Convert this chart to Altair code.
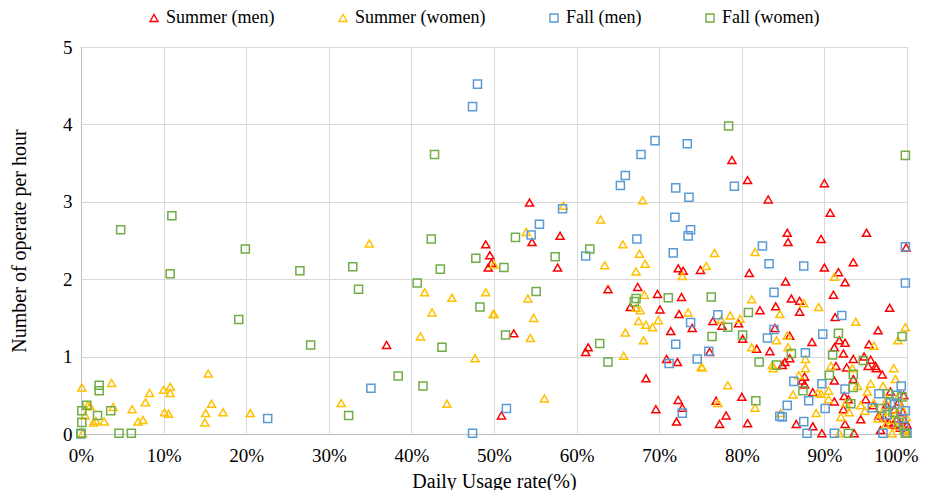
import altair as alt
import pandas as pd

series_names = ["Summer (men)", "Summer (women)", "Fall (men)", "Fall (women)"]
series_colors = ["#FF0000", "#FFC000", "#5B9BD5", "#70AD47"]
series_shapes = ["triangle-up", "triangle-up", "square", "square"]
series_sizes = [65, 65, 90, 70]

x_ticks = list(range(0, 101, 10))
y_ticks = [0, 1, 2, 3, 4, 5]

summer_men = [
    (54.3, 2.99), (58.0, 2.56), (54.6, 2.48), (78.8, 3.54), (80.7, 3.28), (90.0, 3.24),
    (83.2, 3.03), (90.7, 2.86), (85.5, 2.60), (89.6, 2.52), (95.1, 2.60), (85.6, 2.48),
    (49.0, 2.45), (49.5, 2.31), (49.7, 2.21), (49.3, 2.15), (37.0, 1.15), (57.7, 2.15),
    (72.3, 2.14), (72.9, 2.11), (75.0, 2.12), (63.8, 1.87), (67.4, 1.90), (69.8, 1.81),
    (72.7, 1.77), (66.5, 1.64), (70.1, 1.61), (72.4, 1.55), (74.0, 1.37), (71.4, 1.33),
    (52.4, 1.30), (61.4, 1.12), (61.1, 1.06), (70.9, 0.97), (72.2, 0.93), (68.4, 0.72),
    (72.3, 0.44), (72.8, 0.34), (69.6, 0.32), (72.1, 0.16), (50.9, 0.24), (99.9, 2.41),
    (90.0, 2.15), (93.5, 2.22), (91.7, 2.09), (80.9, 2.08), (85.3, 1.97), (92.5, 1.96),
    (91.1, 1.80), (86.0, 1.75), (87.0, 1.72), (84.1, 1.65), (82.2, 1.60), (87.0, 1.58),
    (97.9, 1.63), (91.3, 1.51), (76.5, 1.46), (77.6, 1.40), (79.6, 1.43), (84.0, 1.37),
    (85.8, 1.27), (80.1, 1.23), (88.5, 1.19), (91.8, 1.21), (92.5, 1.18), (96.5, 1.34),
    (95.4, 1.16), (91.2, 1.12), (92.3, 1.04), (81.8, 1.10), (83.4, 1.07), (76.1, 1.06),
    (85.8, 0.98), (93.5, 0.97), (85.2, 0.93), (84.9, 0.89), (94.8, 1.00), (95.6, 0.96),
    (96.2, 0.88), (92.7, 0.86), (91.4, 0.88), (87.6, 0.74), (87.3, 0.69), (87.6, 0.64),
    (91.2, 0.69), (93.5, 0.71), (96.3, 0.85), (95.3, 0.88), (97.0, 0.77), (88.6, 0.54),
    (92.4, 0.49), (92.9, 0.45), (91.2, 0.42), (92.3, 0.32), (94.4, 0.19), (95.9, 0.37),
    (96.6, 0.24), (97.2, 0.21), (76.9, 0.43), (80.0, 0.48), (78.1, 0.24), (77.3, 0.13),
    (80.7, 0.14), (86.6, 0.13), (88.6, 0.10), (92.5, 0.13), (93.6, 0.01), (89.7, 0.01),
    (97.8, 0.15), (98.3, 0.12), (98.8, 0.20), (99.2, 0.08), (99.5, 0.28), (99.7, 0.18),
    (99.9, 0.05), (98.5, 0.32), (97.5, 0.38), (99.0, 0.42), (96.8, 0.05), (99.6, 0.50),
    (100.0, 0.12), (98.0, 0.55), (95.0, 0.45),
]

summer_women = [
    (0.1, 0.60), (3.7, 0.66), (8.3, 0.53), (7.8, 0.41), (10.0, 0.57), (10.8, 0.61),
    (10.8, 0.53), (15.4, 0.78), (15.8, 0.39), (15.1, 0.27), (15.0, 0.15), (17.2, 0.28),
    (20.5, 0.27), (6.2, 0.32), (3.9, 0.35), (10.1, 0.28), (10.6, 0.26), (6.9, 0.16),
    (7.5, 0.18), (1.5, 0.15), (1.8, 0.17), (2.8, 0.16), (0.5, 0.24), (1.1, 0.36),
    (0.8, 0.37), (0.2, 0.01), (34.9, 2.46), (41.6, 1.83), (44.9, 1.76), (49.0, 1.83),
    (42.5, 1.57), (49.9, 1.55), (41.1, 1.26), (47.7, 0.98), (31.5, 0.40), (44.3, 0.39),
    (58.4, 2.95), (68.0, 3.02), (62.9, 2.77), (53.9, 2.61), (65.6, 2.45), (50.0, 2.19),
    (67.6, 2.33), (68.3, 2.20), (63.4, 2.18), (67.2, 2.10), (72.8, 2.04), (54.1, 1.75),
    (54.8, 1.50), (50.0, 1.55), (54.4, 1.24), (68.2, 1.80), (67.2, 1.63), (67.7, 1.60),
    (69.9, 1.47), (67.5, 1.46), (68.4, 1.41), (69.2, 1.38), (65.9, 1.31), (68.1, 1.21),
    (73.5, 1.57), (65.7, 1.01), (75.1, 0.87), (56.1, 0.46), (76.7, 2.34), (81.6, 2.35),
    (75.7, 2.17), (91.2, 2.03), (81.2, 1.74), (87.5, 1.69), (89.3, 1.64), (84.6, 1.55),
    (78.6, 1.53), (79.8, 1.49), (77.5, 1.48), (93.8, 1.45), (99.8, 1.38), (98.9, 1.21),
    (96.0, 1.14), (85.5, 1.27), (84.2, 1.21), (81.2, 1.12), (85.6, 1.12), (87.7, 0.97),
    (75.2, 0.86), (83.7, 0.89), (83.8, 0.85), (87.7, 0.85), (90.8, 0.88), (86.9, 0.76),
    (93.4, 0.85), (78.3, 0.63), (81.6, 0.34), (77.1, 0.40), (86.2, 0.51), (89.2, 0.53),
    (89.6, 0.52), (90.5, 0.56), (89.0, 0.27), (84.7, 0.27), (92.0, 0.22), (93.0, 0.28),
    (94.4, 0.37), (94.9, 0.30), (95.6, 0.65), (97.1, 0.62), (98.6, 0.71), (98.4, 0.85),
    (91.8, 0.01), (98.2, 0.01), (96.5, 0.20), (97.0, 0.28), (97.4, 0.12), (97.8, 0.30),
    (98.2, 0.18), (98.6, 0.25), (98.9, 0.10), (99.3, 0.35), (99.6, 0.05), (99.9, 0.22),
    (96.0, 0.40), (97.6, 0.45), (99.0, 0.50), (100.0, 0.02), (95.2, 0.55), (94.0, 0.62),
    (92.6, 0.40), (90.5, 0.45),
]

fall_men = [
    (48.0, 4.52), (47.4, 4.23), (69.5, 3.79), (73.4, 3.75), (67.8, 3.61), (65.9, 3.34),
    (65.3, 3.21), (72.0, 3.18), (73.6, 3.06), (58.3, 2.91), (71.9, 2.80), (73.8, 2.64),
    (73.5, 2.56), (55.5, 2.71), (54.5, 2.57), (67.3, 2.52), (79.1, 3.20), (82.5, 2.43),
    (99.8, 2.42), (22.6, 0.20), (0.0, 0.0), (35.1, 0.59), (47.4, 0.01), (61.1, 2.30),
    (71.7, 2.34), (73.8, 1.44), (72.0, 1.16), (74.6, 0.97), (71.2, 0.91), (51.5, 0.33),
    (72.8, 0.27), (83.3, 2.20), (87.5, 2.17), (99.8, 1.95), (83.9, 1.83), (77.1, 1.54),
    (92.1, 1.53), (83.9, 1.35), (83.1, 1.24), (89.8, 1.29), (76.0, 1.07), (87.7, 1.05),
    (86.3, 0.68), (89.7, 0.65), (92.5, 0.58), (99.3, 0.62), (88.1, 0.43), (85.5, 0.37),
    (90.1, 0.33), (96.6, 0.52), (95.8, 0.34), (84.6, 0.23), (84.9, 0.22), (87.5, 0.16),
    (87.9, 0.01), (91.2, 0.01), (97.1, 0.01), (98.0, 0.40), (98.5, 0.38), (99.8, 0.30),
    (99.4, 0.20), (100.0, 0.01), (99.6, 0.10), (97.6, 0.25), (98.8, 0.50),
]

fall_women = [
    (0.1, 0.30), (0.1, 0.15), (0.0, 0.01), (0.7, 0.37), (2.2, 0.63), (2.2, 0.56),
    (2.0, 0.24), (3.6, 0.30), (4.6, 0.01), (6.1, 0.01), (10.8, 2.07), (19.9, 2.39),
    (19.1, 1.48), (4.8, 2.64), (11.0, 2.82), (42.8, 3.61), (42.4, 2.52), (26.5, 2.11),
    (32.9, 2.16), (43.5, 2.13), (47.8, 2.27), (33.6, 1.87), (40.7, 1.95), (48.3, 1.64),
    (27.8, 1.15), (43.7, 1.12), (38.4, 0.75), (41.4, 0.62), (32.4, 0.24), (52.6, 2.54),
    (61.6, 2.39), (57.4, 2.29), (51.2, 2.15), (55.1, 1.84), (51.4, 1.28), (62.8, 1.17),
    (63.8, 0.93), (67.2, 1.75), (67.0, 1.71), (71.1, 1.76), (78.4, 3.98), (99.8, 3.60),
    (76.3, 1.77), (80.8, 1.57), (78.3, 1.38), (76.4, 1.26), (80.1, 1.28), (82.1, 0.93),
    (84.2, 0.89), (86.0, 1.04), (91.7, 1.30), (91.0, 1.02), (90.6, 0.76), (93.5, 0.77),
    (93.5, 0.60), (94.7, 0.95), (99.4, 1.26), (81.7, 0.43), (87.4, 0.56), (93.2, 0.39),
    (92.9, 0.01), (96.9, 0.33), (97.7, 0.52), (99.4, 0.48), (99.8, 0.01), (98.3, 0.28),
    (99.0, 0.15),
]

all_series = [summer_men, summer_women, fall_men, fall_women]
rows = []
for i, (name, pts) in enumerate(zip(series_names, all_series)):
    for k, (ux, uy) in enumerate(pts):
        rows.append({"series": name, "usage": ux, "rate": uy, "ord": i * 1000 + k})
df = pd.DataFrame(rows)

font = "Liberation Serif"

chart = alt.Chart(df).mark_point(filled=False, strokeWidth=1.5, clip=False, opacity=1).encode(
    x=alt.X("usage:Q",
            scale=alt.Scale(domain=[0, 100], nice=False),
            axis=alt.Axis(values=x_ticks, labelExpr="datum.value + '%'",
                          labelAlign={"condition": {"test": "datum.value == 100", "value": "right"},
                                      "value": "center"},
                          labelOffset={"condition": {"test": "datum.value == 100", "value": 11},
                                       "value": 0},
                          title="Daily Usage rate(%)", labelPadding=12, titlePadding=6)),
    y=alt.Y("rate:Q",
            scale=alt.Scale(domain=[0, 5], nice=False),
            axis=alt.Axis(values=y_ticks, title="Number of operate per hour",
                          labelPadding=9, titlePadding=33)),
    color=alt.Color("series:N", scale=alt.Scale(domain=series_names, range=series_colors),
                    legend=alt.Legend(title=None, orient="none", direction="horizontal",
                                      legendX=64, legendY=-38, columns=4, columnPadding=59,
                                      symbolSize=50, symbolStrokeWidth=1.4,
                                      labelFontSize=18, labelFont=font, labelColor="#000",
                                      symbolFillColor="transparent", labelOffset=3)),
    shape=alt.Shape("series:N", scale=alt.Scale(domain=series_names, range=series_shapes)),
    size=alt.Size("series:N", scale=alt.Scale(domain=series_names, range=series_sizes), legend=None),
    order=alt.Order("ord:Q"),
).properties(
    width=826, height=387,
    autosize=alt.AutoSizeParams(type="none"),
    padding={"left": 73, "top": 39, "right": 12, "bottom": 56},
).configure_view(
    stroke="#BFBFBF", strokeWidth=1
).configure_axis(
    labelFont=font, titleFont=font, labelFontSize=19, titleFontSize=20,
    labelColor="#000", titleColor="#000", titleFontWeight="normal",
    ticks=False, domainColor="#BFBFBF", gridColor="#D9D9D9", gridWidth=1,
    labelFlush=False
)

chart.save("out.html", embed_options={"renderer": "svg", "actions": False})
